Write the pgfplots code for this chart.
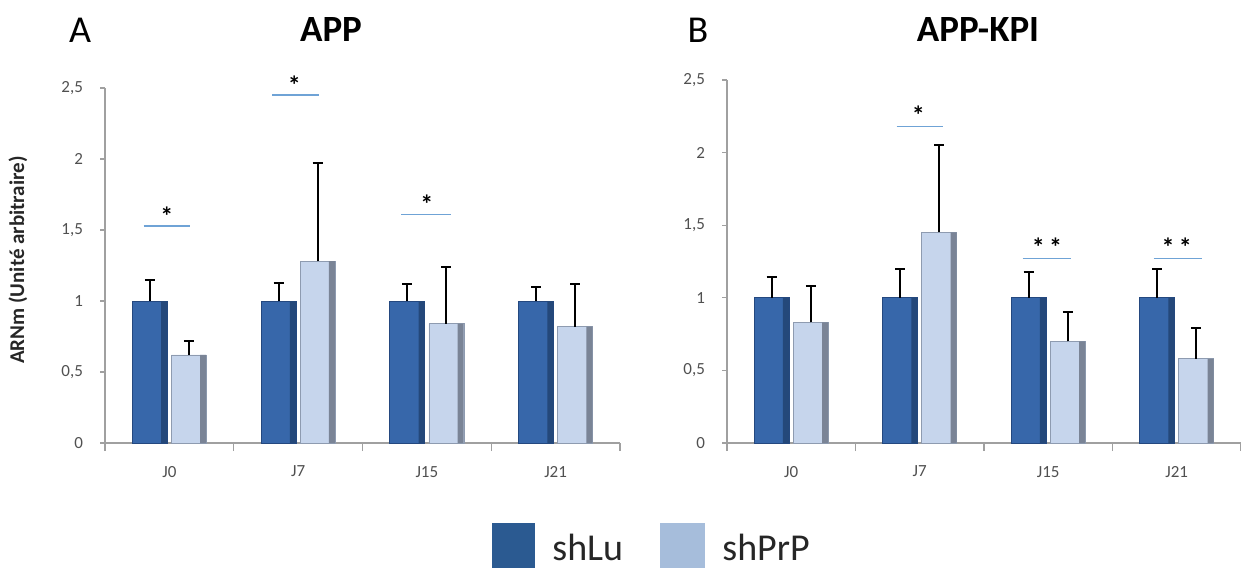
\documentclass[border=0pt]{standalone}
\usepackage{fontspec}
\setmainfont{Carlito}
\usepackage{pgfplots}
\usepackage{pgfplotstable}
\pgfplotsset{compat=1.18}

\definecolor{darkM}{HTML}{3767AA}
\definecolor{darkE}{HTML}{24487F}
\definecolor{darkS}{HTML}{24487A}
\definecolor{lightM}{HTML}{C6D5EC}
\definecolor{lightE}{HTML}{8E9BB0}
\definecolor{lightS}{HTML}{7A8496}
\definecolor{legdark}{HTML}{2B5A91}
\definecolor{leglight}{HTML}{A6BDDB}
\definecolor{sig}{HTML}{6FA3D6}
\definecolor{axgray}{HTML}{A0A0A0}
\definecolor{txtgray}{HTML}{505050}

\pgfplotstableread{
x y e
0 1 0.15
1 1 0.13
2 1 0.12
3 1 0.10
}\Adark
\pgfplotstableread{
x y e
0 0.62 0.10
1 1.28 0.69
2 0.84 0.40
3 0.82 0.30
}\Alight
\pgfplotstableread{
x y e
0 1 0.14
1 1 0.20
2 1 0.18
3 1 0.20
}\Bdark
\pgfplotstableread{
x y e
0 0.83 0.25
1 1.45 0.60
2 0.70 0.20
3 0.58 0.21
}\Blight

\tikzset{
  sigline/.style={sig, line width=0.8pt},
  star/.style={font=\bfseries\fontsize{13}{13}\selectfont, inner sep=0pt},
}
\pgfplotsset{
  panel/.style={
    scale only axis,
    xmin=-0.5, xmax=3.5, ymin=0, ymax=2.5,
    clip=false,
    axis x line*=bottom, axis y line*=left,
    axis line style={axgray, line width=0.6pt},
    xtick={0,1,2,3}, xticklabels={J0,J7,J15,J21},
    major x tick style={draw=none},
    minor xtick={-0.5,0.5,1.5,2.5,3.5},
    minor x tick style={axgray, line width=0.6pt},
    minor tick length=4pt,
    ytick={0,0.5,1,1.5,2,2.5},
    major y tick style={axgray, line width=0.6pt},
    major tick length=2.5pt,
    tick align=outside,
    /pgf/number format/use comma,
    /pgf/number format/assume math mode=true,
    tick label style={font=\fontsize{8.5}{10}\selectfont, text=txtgray},
    yticklabel style={xshift=-5pt},
    xticklabel style={yshift=-5.5pt},
  },
  errs/.style={error bars/.cd, y dir=plus, y explicit,
    error bar style={black, line width=1pt},
    error mark options={rotate=90, black, mark size=2.5pt, line width=1pt}},
  darkbar/.style={ybar, bar width=17.5pt, bar shift=0pt, draw=darkE, fill=darkM, line width=0.4pt, errs},
  lightbar/.style={ybar, bar width=17.5pt, bar shift=0pt, draw=lightE, fill=lightM, line width=0.4pt, errs},
  darkstripe/.style={ybar, bar width=3pt, bar shift=0pt, draw=none, fill=darkS},
  lightstripe/.style={ybar, bar width=3pt, bar shift=0pt, draw=none, fill=lightS},
}

\begin{document}
\begin{tikzpicture}
\useasboundingbox (0,0) rectangle (620.5pt,285pt);

% Panel A
\begin{axis}[panel, width=257.5pt, height=177.5pt, at={(52.5pt,63.5pt)}, anchor=south west]
\addplot[darkbar] table[x expr=\thisrow{x}-0.152, y=y, y error=e] {\Adark};
\addplot[darkstripe] table[x expr=\thisrow{x}-0.041, y=y] {\Adark};
\addplot[lightbar] table[x expr=\thisrow{x}+0.152, y=y, y error=e] {\Alight};
\addplot[lightstripe] table[x expr=\thisrow{x}+0.263, y=y] {\Alight};
\draw[sigline] (axis cs:-0.2,1.53) -- (axis cs:0.16,1.53);
\node[star] at (axis cs:-0.02,1.60) {*};
\draw[sigline] (axis cs:0.8,2.45) -- (axis cs:1.16,2.45);
\node[star] at (axis cs:0.97,2.52) {*};
\draw[sigline] (axis cs:1.8,1.61) -- (axis cs:2.19,1.61);
\node[star] at (axis cs:2.0,1.68) {*};
\end{axis}

% Panel B
\begin{axis}[panel, width=257pt, height=181.5pt, at={(363.5pt,63.5pt)}, anchor=south west]
\addplot[darkbar] table[x expr=\thisrow{x}-0.152, y=y, y error=e] {\Bdark};
\addplot[darkstripe] table[x expr=\thisrow{x}-0.041, y=y] {\Bdark};
\addplot[lightbar] table[x expr=\thisrow{x}+0.152, y=y, y error=e] {\Blight};
\addplot[lightstripe] table[x expr=\thisrow{x}+0.263, y=y] {\Blight};
\draw[sigline] (axis cs:0.82,2.18) -- (axis cs:1.18,2.18);
\node[star] at (axis cs:0.99,2.26) {*};
\draw[sigline] (axis cs:1.8,1.27) -- (axis cs:2.18,1.27);
\node[star] at (axis cs:1.99,1.35) {*\,*};
\draw[sigline] (axis cs:2.82,1.27) -- (axis cs:3.2,1.27);
\node[star] at (axis cs:3.0,1.35) {*\,*};
\end{axis}

% Titles and labels
\node[font=\fontsize{19}{19}\selectfont] at (40pt,270pt) {A};
\node[font=\bfseries\fontsize{18.5}{19}\selectfont] at (165.5pt,270pt) {APP};
\node[font=\fontsize{19}{19}\selectfont] at (349pt,270pt) {B};
\node[font=\bfseries\fontsize{18.5}{19}\selectfont] at (489pt,270pt) {APP-KPI};
\node[rotate=90, font=\bfseries\fontsize{10.5}{11}\selectfont, text=black!85] at (9pt,155pt) {ARNm (Unité arbitraire)};

% Legend
\fill[legdark] (246pt,1pt) rectangle (267.5pt,23.5pt);
\node[anchor=base west, inner sep=0pt, font=\fontsize{19}{19}\selectfont, text=black!85] at (276pt,5pt) {shLu};
\fill[leglight] (330pt,1pt) rectangle (352.5pt,23.5pt);
\node[anchor=base west, inner sep=0pt, font=\fontsize{19}{19}\selectfont, text=black!85] at (361pt,5pt) {shPrP};
\end{tikzpicture}
\end{document}
